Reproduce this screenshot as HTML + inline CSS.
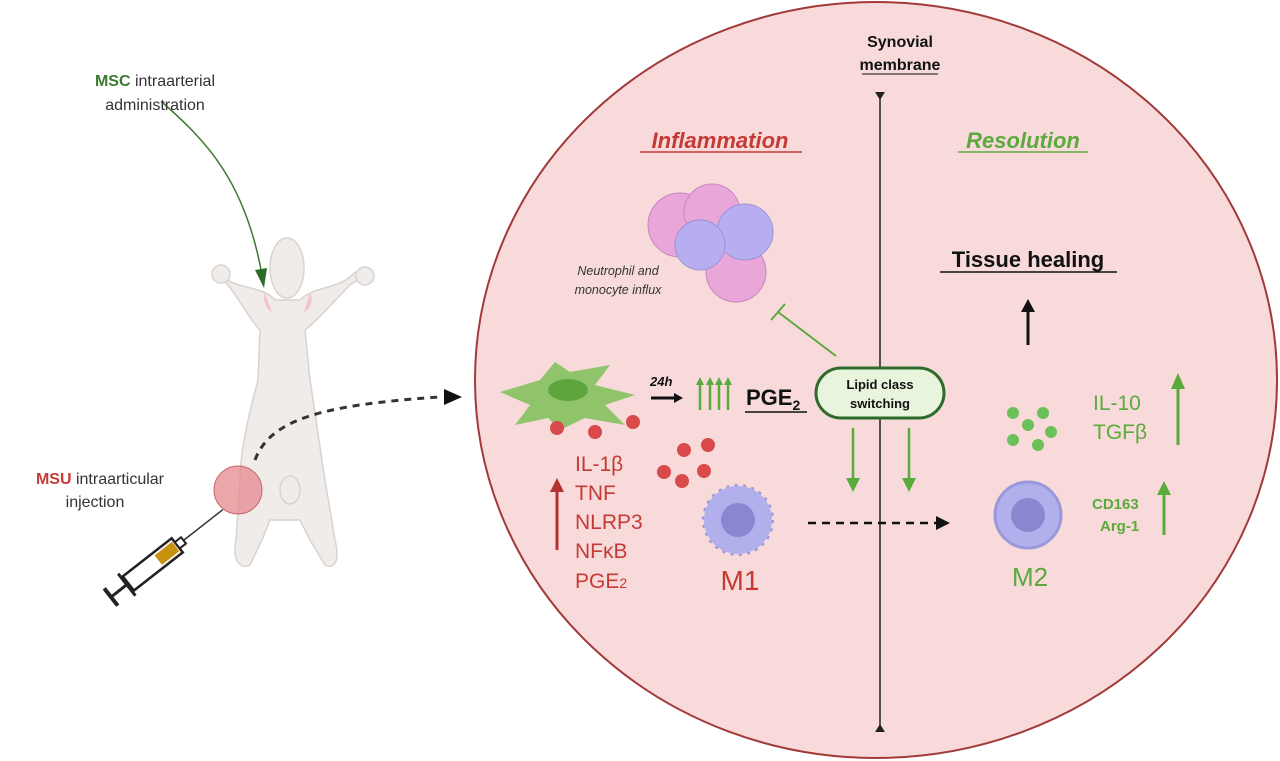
<!DOCTYPE html>
<html><head><meta charset="utf-8"><style>
body{margin:0;background:#fff}
svg{display:block}
text{font-family:"Liberation Sans",sans-serif}
</style></head><body>
<svg width="1280" height="761" viewBox="0 0 1280 761" xmlns="http://www.w3.org/2000/svg">
<defs>
<marker id="ag" markerWidth="14" markerHeight="14" refX="10" refY="7" orient="auto" markerUnits="userSpaceOnUse"><path d="M0,0 L14,7 L0,14z" fill="#5aaa3c"/></marker>
</defs>
<ellipse cx="876" cy="380" rx="401" ry="378" fill="#f8dada" stroke="#a33a3a" stroke-width="2"/>
<line x1="880" y1="92" x2="880" y2="732" stroke="#222" stroke-width="1.5"/>
<path d="M875,92 L885,92 L880,100z" fill="#222"/><path d="M875,732 L885,732 L880,724z" fill="#222"/>
<text x="900" y="47" font-size="16" font-weight="bold" text-anchor="middle" fill="#111">Synovial</text>
<text x="900" y="70" font-size="16" font-weight="bold" text-anchor="middle" fill="#111">membrane</text>
<line x1="862" y1="74" x2="938" y2="74" stroke="#111"/>
<text x="720" y="148" font-size="22" font-weight="bold" font-style="italic" fill="#c63a36" text-anchor="middle">Inflammation</text>
<line x1="640" y1="152" x2="802" y2="152" stroke="#c63a36" stroke-width="1.5"/>
<text x="1023" y="148" font-size="22" font-weight="bold" font-style="italic" fill="#5aaa3c" text-anchor="middle">Resolution</text>
<line x1="958" y1="152" x2="1088" y2="152" stroke="#5aaa3c" stroke-width="1.5"/>
<circle cx="680" cy="225" r="32" fill="#e9a6d8" stroke="#c986c0"/>
<circle cx="712" cy="212" r="28" fill="#e9a6d8" stroke="#c986c0"/>
<circle cx="736" cy="272" r="30" fill="#e9a6d8" stroke="#c986c0"/>
<circle cx="745" cy="232" r="28" fill="#b6aef0" stroke="#9b93d8"/>
<circle cx="700" cy="245" r="25" fill="#b6aef0" stroke="#9b93d8"/>
<text x="618" y="275" font-size="12.5" font-style="italic" fill="#333" text-anchor="middle">Neutrophil and</text>
<text x="618" y="294" font-size="12.5" font-style="italic" fill="#333" text-anchor="middle">monocyte influx</text>
<line x1="836" y1="356" x2="778" y2="312" stroke="#5aaa3c" stroke-width="2"/>
<line x1="771" y1="320" x2="785" y2="304" stroke="#5aaa3c" stroke-width="2"/>
<text x="1028" y="267" font-size="22" font-weight="bold" fill="#111" text-anchor="middle">Tissue healing</text>
<line x1="940" y1="272" x2="1117" y2="272" stroke="#111" stroke-width="1.5"/>
<line x1="1028" y1="345" x2="1028" y2="310" stroke="#111" stroke-width="3"/><path d="M1021,312 L1035,312 L1028,299z" fill="#111"/>
<path d="M500,392 L540,380 L555,362 L570,372 L610,365 L595,385 L635,395 L605,405 L625,425 L585,418 L560,430 L548,418 L515,425 L530,405z" fill="#8fc46b"/>
<ellipse cx="568" cy="390" rx="20" ry="11" fill="#5fa53d"/>
<g fill="#d94a4a"><circle cx="557" cy="428" r="7"/><circle cx="595" cy="432" r="7"/><circle cx="633" cy="422" r="7"/>
<circle cx="684" cy="450" r="7"/><circle cx="708" cy="445" r="7"/><circle cx="664" cy="472" r="7"/><circle cx="704" cy="471" r="7"/><circle cx="682" cy="481" r="7"/></g>
<text x="650" y="386" font-size="13" font-weight="bold" font-style="italic" fill="#111">24h</text>
<line x1="651" y1="398" x2="676" y2="398" stroke="#111" stroke-width="3"/><path d="M674,393 L683,398 L674,403z" fill="#111"/>
<g stroke="#5aaa3c" stroke-width="2.5"><line x1="700" y1="410" x2="700" y2="383"/><line x1="710" y1="410" x2="710" y2="383"/><line x1="719" y1="410" x2="719" y2="383"/><line x1="728" y1="410" x2="728" y2="383"/></g>
<g fill="#5aaa3c"><path d="M696,385 L704,385 L700,377z"/><path d="M706,385 L714,385 L710,377z"/><path d="M715,385 L723,385 L719,377z"/><path d="M724,385 L732,385 L728,377z"/></g>
<text x="746" y="405" font-size="22" font-weight="bold" fill="#111">PGE<tspan font-size="14" dy="5">2</tspan></text>
<line x1="745" y1="412" x2="807" y2="412" stroke="#111" stroke-width="1.5"/>
<rect x="816" y="368" width="128" height="50" rx="25" fill="#e8f5dc" stroke="#2e6b2a" stroke-width="3"/>
<text x="880" y="389" font-size="13" font-weight="bold" fill="#111" text-anchor="middle">Lipid class</text>
<text x="880" y="408" font-size="13" font-weight="bold" fill="#111" text-anchor="middle">switching</text>
<line x1="853" y1="428" x2="853" y2="488" stroke="#5aaa3c" stroke-width="2.5" marker-end="url(#ag)"/>
<line x1="909" y1="428" x2="909" y2="488" stroke="#5aaa3c" stroke-width="2.5" marker-end="url(#ag)"/>
<line x1="808" y1="523" x2="938" y2="523" stroke="#111" stroke-width="2.5" stroke-dasharray="8,6"/><path d="M936,516 L950,523 L936,530z" fill="#111"/>
<circle cx="738" cy="520" r="33" fill="#b2b0ec" stroke="#9a98dc" stroke-width="6" stroke-dasharray="3,5"/>
<circle cx="738" cy="520" r="34" fill="#b2b0ec"/>
<circle cx="738" cy="520" r="17" fill="#8a86cf"/>
<text x="740" y="590" font-size="28" fill="#c63a36" text-anchor="middle">M1</text>
<line x1="557" y1="550" x2="557" y2="488" stroke="#b53030" stroke-width="3"/><path d="M550,492 L564,492 L557,478z" fill="#b53030"/>
<g font-size="21" fill="#c63a36"><text x="575" y="471">IL-1β</text><text x="575" y="500">TNF</text><text x="575" y="529">NLRP3</text><text x="575" y="558">NFκB</text><text x="575" y="588">PGE<tspan font-size="14">2</tspan></text></g>
<g fill="#6cc05a"><circle cx="1013" cy="413" r="6"/><circle cx="1043" cy="413" r="6"/><circle cx="1028" cy="425" r="6"/><circle cx="1051" cy="432" r="6"/><circle cx="1013" cy="440" r="6"/><circle cx="1038" cy="445" r="6"/></g>
<circle cx="1028" cy="515" r="33" fill="#b2b0ec" stroke="#9a98dc" stroke-width="3"/>
<circle cx="1028" cy="515" r="17" fill="#8a86cf"/>
<text x="1030" y="586" font-size="26" fill="#5aaa3c" text-anchor="middle">M2</text>
<text x="1093" y="410" font-size="21" fill="#5aaa3c">IL-10</text>
<text x="1093" y="439" font-size="21" fill="#5aaa3c">TGFβ</text>
<line x1="1178" y1="445" x2="1178" y2="385" stroke="#5aaa3c" stroke-width="3"/><path d="M1171,389 L1185,389 L1178,373z" fill="#5aaa3c"/>
<text x="1092" y="509" font-size="15" font-weight="bold" fill="#5aaa3c">CD163</text>
<text x="1100" y="531" font-size="15" font-weight="bold" fill="#5aaa3c">Arg-1</text>
<line x1="1164" y1="535" x2="1164" y2="493" stroke="#5aaa3c" stroke-width="3"/><path d="M1157,495 L1171,495 L1164,481z" fill="#5aaa3c"/>
<g fill="#f0ecea" stroke="#d9d2d0" stroke-width="1.5">
<path d="M275,300 C262,285 235,290 222,275 L215,272 L228,285 C240,300 250,320 260,330 L258,380 C250,410 240,450 240,480 L236,540 C232,560 240,570 250,565 L262,540 L270,520 L300,520 L310,540 L325,565 C335,570 340,560 335,540 L325,480 C320,450 315,410 310,380 L305,330 C318,320 335,300 350,285 L365,275 L355,272 C340,290 315,285 300,300z"/>
<ellipse cx="287" cy="268" rx="17" ry="30"/>
<circle cx="221" cy="274" r="9"/><circle cx="365" cy="276" r="9"/>
<ellipse cx="290" cy="490" rx="10" ry="14"/>
</g>
<path d="M265,293 C262,300 266,310 272,312" fill="#f4c5c8"/><path d="M310,293 C314,300 310,310 304,312" fill="#f4c5c8"/>
<circle cx="238" cy="490" r="24" fill="#e58a8e" fill-opacity=".75" stroke="#c56468"/>
<path d="M163,103 C205,140 245,180 262,275" fill="none" stroke="#3b7a2e" stroke-width="1.5"/>
<path d="M255,270 L267,268 L264,288z" fill="#2e6b2a"/>
<path d="M255,460 C270,420 320,405 440,397" fill="none" stroke="#333" stroke-width="3" stroke-dasharray="7,6"/>
<path d="M444,389 L462,397 L444,405z" fill="#111"/>
<text x="155" y="86" font-size="16" fill="#333" text-anchor="middle"><tspan font-weight="bold" fill="#3b7a2e">MSC</tspan> intraarterial</text>
<text x="155" y="110" font-size="16" fill="#333" text-anchor="middle">administration</text>
<text x="100" y="484" font-size="16" fill="#333" text-anchor="middle"><tspan font-weight="bold" fill="#c63a36">MSU</tspan> intraarticular</text>
<text x="95" y="507" font-size="16" fill="#333" text-anchor="middle">injection</text>
<g transform="translate(152,565) rotate(-38)">
<line x1="40" y1="0" x2="90" y2="0" stroke="#333" stroke-width="1.5"/>
<rect x="-30" y="-9" width="62" height="18" fill="#fff" stroke="#222" stroke-width="2.5"/>
<rect x="8" y="-6" width="22" height="12" fill="#c8920f"/>
<rect x="32" y="-4" width="8" height="8" fill="#fff" stroke="#222" stroke-width="2"/>
<line x1="-30" y1="0" x2="-52" y2="0" stroke="#222" stroke-width="3"/>
<line x1="-52" y1="-11" x2="-52" y2="11" stroke="#222" stroke-width="4"/>
<line x1="-32" y1="-14" x2="-32" y2="14" stroke="#222" stroke-width="3"/>
</g>
</svg>
</body></html>
